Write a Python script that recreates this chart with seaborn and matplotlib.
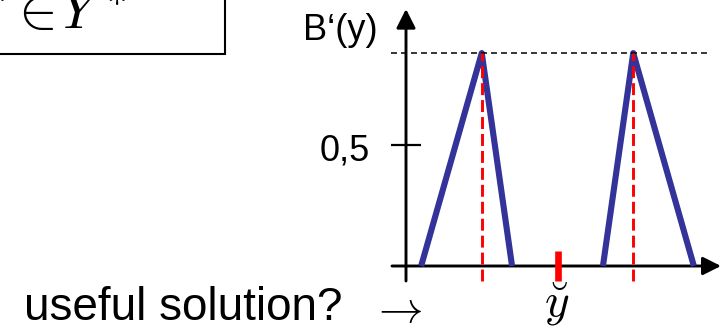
import numpy as np
import pandas as pd
import matplotlib
matplotlib.use("Agg")
import matplotlib.pyplot as plt
from matplotlib.patches import Rectangle
import seaborn as sns

# ---- data ----
left_feet = [0.5, 6.5]      # left base of each triangle
peaks = [2.5, 7.5]          # apex positions
right_feet = [3.5, 9.5]     # right base of each triangle
peak_height = 0.88          # common maximum membership
y_check = 5.0               # position of the (useless) defuzzified value
tick_value = 0.5
tick_label = "0,5"

# ---- styling ----
sns.set_style("white")
plt.rcParams["font.family"] = ["Liberation Sans", "DejaVu Sans"]
plt.rcParams["mathtext.fontset"] = "cm"
plt.rcParams["lines.scale_dashes"] = False
plt.rcParams["text.color"] = "black"

BLUE = "#333399"
RED = "#ff0000"

fig = plt.figure(figsize=(7.21, 3.30), dpi=100)
ax = fig.add_axes([0, 0, 1, 1])

# pixel -> data helpers (layout only)
SX, X0 = 30.3, 406.0
SY, Y0 = 242.0, 266.0
def dx(px):
    return (px - X0) / SX
def dy(py):
    return (Y0 - py) / SY

ax.set_xlim(dx(0), dx(721))
ax.set_ylim(dy(330), dy(0))
ax.axis("off")

# triangles
rows = []
for i, (a, b, c) in enumerate(zip(left_feet, peaks, right_feet)):
    rows += [(i, a, 0.0), (i, b, peak_height), (i, c, 0.0)]
df = pd.DataFrame(rows, columns=["set", "y_val", "mu"])
sns.lineplot(data=df, x="y_val", y="mu", units="set", estimator=None,
             sort=False, color=BLUE, lw=4.4, ax=ax, legend=False,
             solid_capstyle="butt", solid_joinstyle="round", zorder=3)

# axes with arrows
axis_lw = 2.1
ax.annotate("", xy=(dx(721), 0), xytext=(dx(392), 0),
            arrowprops=dict(arrowstyle="-|>,head_length=1.1,head_width=0.55",
                            lw=axis_lw, color="black", shrinkA=0, shrinkB=0,
                            mutation_scale=10), zorder=2)
ax.annotate("", xy=(0, dy(9)), xytext=(0, dy(281)),
            arrowprops=dict(arrowstyle="-|>,head_length=1.15,head_width=0.58",
                            lw=axis_lw, color="black", shrinkA=0, shrinkB=0,
                            mutation_scale=10), zorder=2)

# tick at 0.5
ax.plot([dx(391), dx(421)], [tick_value, tick_value], color="black", lw=1.6,
        solid_capstyle="butt")
ax.text(dx(370), dy(161), tick_label, ha="right", va="baseline", fontsize=26)

# dashed max line
ax.plot([dx(391), dx(708)], [peak_height, peak_height], color="black", lw=1.1,
        dashes=(4.3, 2.9), zorder=4)

# red dashed verticals at peaks
ax.vlines(peaks, dy(281), peak_height, colors=RED, lw=2.1,
          linestyles=[(0, (8.6, 3.6))], zorder=5)

# red mark at the defuzzified value
ax.vlines([y_check], dy(281), dy(251), colors=RED, lw=4.8, zorder=5)

# labels
ax.text(dx(378), dy(40), "B\u2018(y)", ha="right", va="baseline", fontsize=26)
ax.text(dx(557), dy(317), r"$\breve{y}$", ha="center", va="baseline", fontsize=34)
ax.text(dx(24), dy(320.5), "useful solution?", ha="left", va="baseline", fontsize=33)
ax.text(dx(397), dy(322), r"$\rightarrow$", ha="center", va="baseline", fontsize=32)

# partial box top-left
ax.add_patch(Rectangle((dx(-20), dy(54)), dx(225) - dx(-20), dy(-20) - dy(54),
                       fill=False, lw=1.5, edgecolor="black", clip_on=False))
ax.text(dx(126), dy(29), r"$y^*\!\in\! Y^*$", ha="right", va="baseline", fontsize=42)

fig.savefig("out.png", dpi=100)
